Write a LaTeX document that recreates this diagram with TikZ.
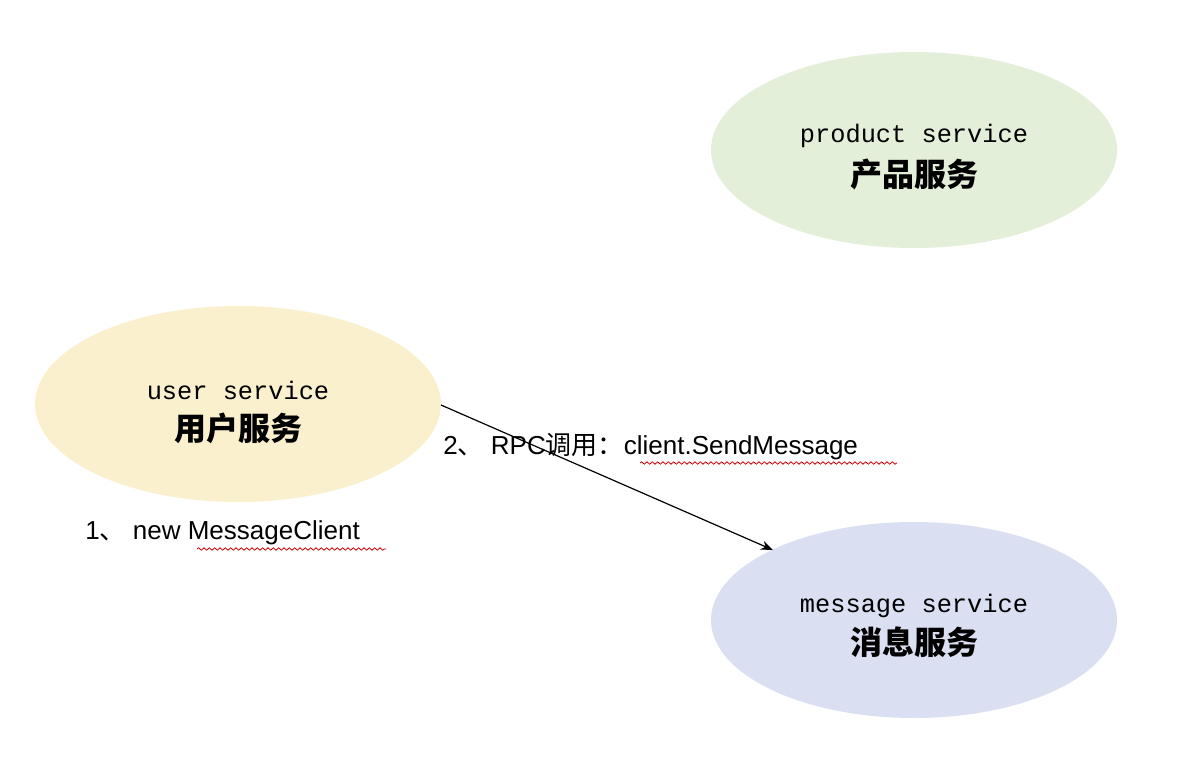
\documentclass[tikz,border=0pt]{standalone}
\usepackage{fontspec}
\setmainfont{Liberation Sans}
\newfontfamily\cjk{Noto Sans CJK SC}
\newfontfamily\monof{Liberation Mono}
\usetikzlibrary{shapes.geometric,decorations.pathmorphing,arrows.meta}
\definecolor{cg}{HTML}{E3EFD9}
\definecolor{cy}{HTML}{FBF0CD}
\definecolor{cb}{HTML}{DAE0F1}
\begin{document}
\begin{tikzpicture}[x=0.75pt,y=-0.75pt,
  svc/.style={ellipse,draw=none,minimum width=406*0.75pt,minimum height=196*0.75pt,inner sep=0pt},
  mono/.style={font=\monof\fontsize{19}{22}\selectfont},
  zh/.style={font=\cjk\bfseries\fontsize{24}{26}\selectfont},
  lab/.style={font=\fontsize{19.5}{22}\selectfont,anchor=west,inner sep=0pt},
  squig/.style={draw=red!80!black,line width=0.6pt,decorate,decoration={snake,amplitude=0.9pt,segment length=4pt}}]
\useasboundingbox (0,0) rectangle (1178,782);
\fill[white] (0,0) rectangle (1178,782);
\node (p) at (914,150) [svc,fill=cg] {};
\node (u) at (238,404) [svc,fill=cy] {};
\node (m) at (914,620) [svc,fill=cb] {};
\node[mono] (pt) at (914,136) {product service};
\node[zh] (pc) at (914,174) {产品服务};
\node[mono] (ut) at (238,390) {user service};
\node[zh] (uc) at (238,428) {用户服务};
\node[mono] (mt) at (914,606) {message service};
\node[zh] (mc) at (914,642) {消息服务};
\coordinate (a1) at (441,405);
\coordinate (a2) at (773,550);
\draw[-{Stealth[length=9pt,width=7pt]},line width=0.9pt] (a1) -- (a2);
\node[lab] (l1) at (85,533) {1{\cjk 、} new MessageClient};
\node[lab] (l2) at (443,447) {2{\cjk 、} RPC{\cjk 调用：}client.SendMessage};
\draw[squig] (197,549) -- (386,549);
\draw[squig] (640,463) -- (897,463);
\end{tikzpicture}
\end{document}
